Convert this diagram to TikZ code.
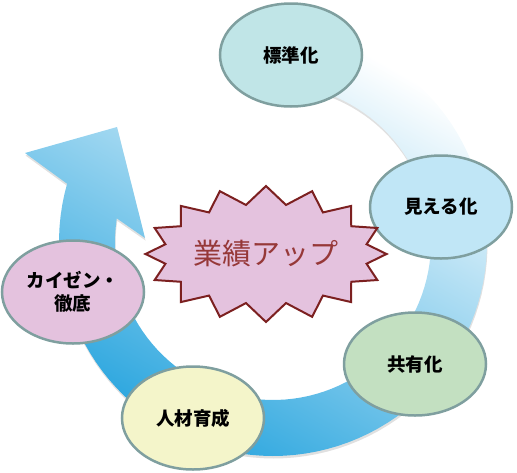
\documentclass[tikz,border=0pt]{standalone}
\usepackage{fontspec}
\setmainfont{Noto Sans CJK JP}
\usepackage{xcolor}
\usetikzlibrary{shapes, shapes.symbols, shadows}
\usetikzlibrary{positioning}
\definecolor{ringdeep}{RGB}{38,164,222}
\definecolor{ringmid}{RGB}{132,204,238}
\definecolor{ringpale}{RGB}{255,255,255}
\definecolor{phaseline}{RGB}{127,159,159}
\definecolor{stdfill}{RGB}{192,229,231}
\definecolor{visfill}{RGB}{192,230,246}
\definecolor{shrfill}{RGB}{195,224,193}
\definecolor{hrdfill}{RGB}{244,245,202}
\definecolor{kznfill}{RGB}{228,194,222}
\definecolor{burstline}{RGB}{124,32,32}
\definecolor{bursttext}{RGB}{150,56,56}

\begin{document}
\begin{tikzpicture}[x=1pt,y=-1pt,
		phase/.style={ellipse,draw=phaseline,line width=2.5pt,minimum width=142pt,
			minimum height=103pt,inner sep=0pt,align=center,
			font=\fontsize{18.5}{23}\selectfont\bfseries},
		burst/.style={starburst,starburst points=16,starburst point height=18pt,
			random starburst=0,draw=burstline,line width=2pt,fill=kznfill,
			text=bursttext,minimum width=228pt,minimum height=136pt,inner sep=0pt,
			font=\fontsize{29}{30}\selectfont},
		ring/.style={top color=ringpale,middle color=ringmid,bottom color=ringdeep,
			shading angle=-30,
			drop shadow={shadow xshift=0.5pt,shadow yshift=-2.5pt,fill=black!30,opacity=.4}}]
		\useasboundingbox (0,0) rectangle (517,472);
		\def\cx{273} \def\cy{242} \def\ro{214} \def\ri{158}
		
		% circular arrow
		\shade[ring] plot[domain=-95:195.8,samples=100] ({\cx+\ro*cos(\x)},{\cy+\ro*sin(\x)})
			-- (25,153) -- (117,127) -- (145,238)
			-- plot[domain=188.6:-95,samples=100] ({\cx+\ri*cos(\x)},{\cy+\ri*sin(\x)}) -- cycle;
		
		\node[phase,fill=stdfill] (std) at (291,55)  {標準化};
		\node[phase,fill=visfill] (vis) at (441,207) {見える化};
		\node[phase,fill=shrfill] (shr) at (415,364) {共有化};
		\node[phase,fill=hrdfill] (hrd) at (193,418) {人材育成};
		\node[phase,fill=kznfill] (kzn) at (73,292)  {カイゼン・\\徹底};
		
		\node[burst] (gain) at (266,254) {業績アップ};
		\end{tikzpicture}
\end{document}
